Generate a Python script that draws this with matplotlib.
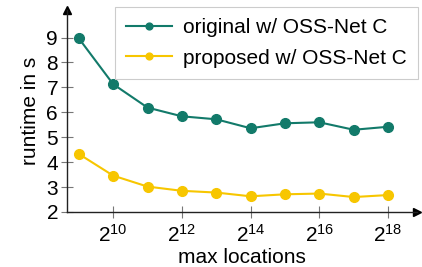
import numpy as np
import matplotlib
matplotlib.use("Agg")
import matplotlib.pyplot as plt
from matplotlib.ticker import FixedLocator, NullLocator

plt.rcParams["font.family"] = ["Liberation Sans", "DejaVu Sans"]

max_locations = [2**k for k in range(9, 19)]
original = [8.97, 7.13, 6.19, 5.84, 5.72, 5.36, 5.56, 5.60, 5.30, 5.42]
proposed = [4.33, 3.46, 3.02, 2.85, 2.78, 2.63, 2.71, 2.74, 2.60, 2.68]
xtick_exps = [10, 12, 14, 16, 18]
yticks = [2, 3, 4, 5, 6, 7, 8, 9]

TEAL = "#127a6a"
GOLD = "#f7c600"
FS = 15

fig = plt.figure(figsize=(4.22, 2.67), dpi=100)
ax = fig.add_axes([0.159, 0.206, 0.829, 0.756])

ax.plot(max_locations, original, "-o", color=TEAL, lw=1.5, ms=7,
        label="original w/ OSS-Net C", zorder=4)
ax.plot(max_locations, proposed, "-o", color=GOLD, lw=1.5, ms=7,
        label="proposed w/ OSS-Net C", zorder=4)

ax.set_xscale("log", base=2)
ax.set_xlim(2**8.66, 2**18.84)
ax.set_ylim(2, 10.1)

ax.xaxis.set_major_locator(FixedLocator([2**e for e in xtick_exps]))
ax.set_xticklabels([r"$\mathdefault{2^{%d}}$" % e for e in xtick_exps])
ax.xaxis.set_minor_locator(NullLocator())
ax.set_yticks(yticks)
ax.tick_params(direction="inout", length=9, width=0.8, color="#777777",
               labelsize=FS, pad=2)
ax.tick_params(axis="x", pad=4)

for s in ("top", "right"):
    ax.spines[s].set_visible(False)
for s in ("left", "bottom"):
    ax.spines[s].set_linewidth(1.0)
    ax.spines[s].set_color("#222222")

# arrow heads at axis ends
ax.plot(1, 0, ">", color="black", ms=6, transform=ax.transAxes, clip_on=False)
ax.plot(0, 1, "^", color="black", ms=6, transform=ax.transAxes, clip_on=False)

ax.set_xlabel("max locations", fontsize=FS, labelpad=2)
ax.set_ylabel("runtime in s", fontsize=FS, labelpad=5)

leg = ax.legend(loc="upper right", bbox_to_anchor=(0.99, 0.975),
                bbox_transform=fig.transFigure, borderaxespad=0,
                fontsize=FS, frameon=True,
                fancybox=False, framealpha=1, edgecolor="#cccccc",
                handlelength=2.2, handletextpad=0.5, borderpad=0.55,
                labelspacing=0.55, markerscale=0.7)
leg.get_frame().set_linewidth(0.8)

fig.savefig("out.png", dpi=100)
